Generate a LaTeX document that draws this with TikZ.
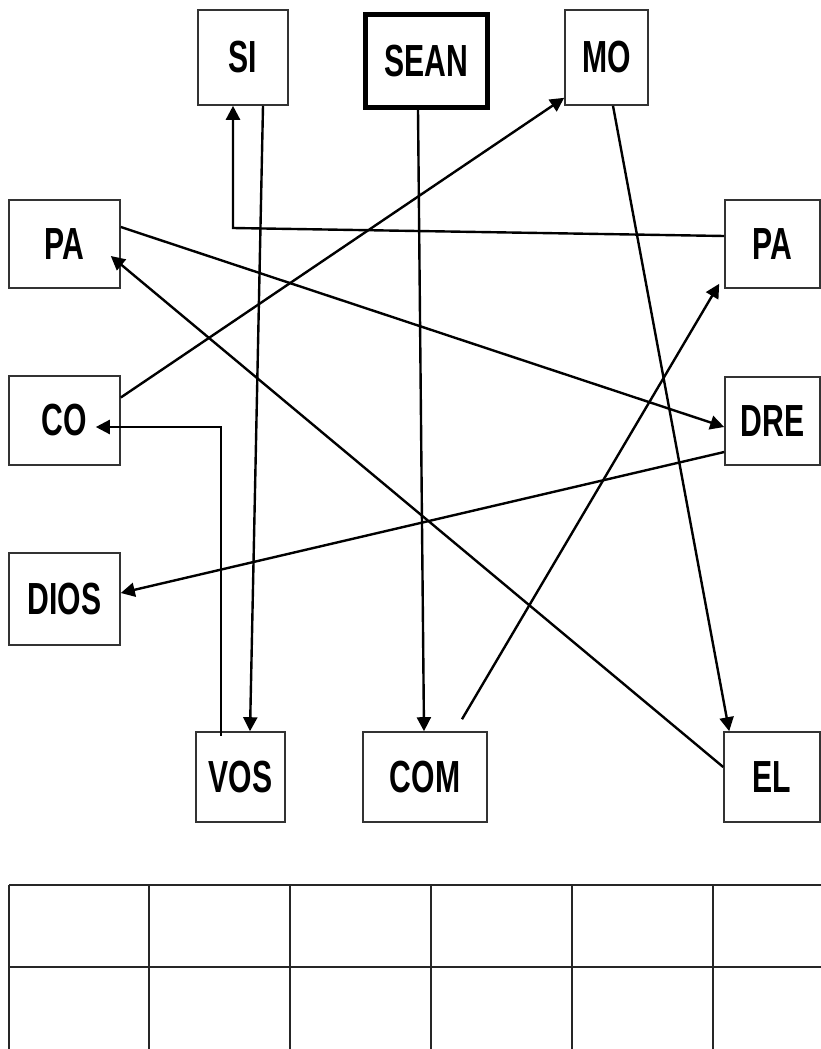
\documentclass[tikz,border=0pt]{standalone}
\usepackage{fontspec}
\newfontfamily\boxfont[FakeStretch=0.67]{Liberation Sans}
\usetikzlibrary{positioning}
\usetikzlibrary{arrows.meta}

\begin{document}
\begin{tikzpicture}[x=1pt,y=-1pt,
        >={Triangle[length=14pt,width=14pt]},
        link/.style={->,draw=black,line width=2.4pt},
        word/.style={draw=black!80,line width=1.6pt,inner sep=0pt,
            font=\boxfont\bfseries\fontsize{45}{45}\selectfont},
        grid line/.style={draw=black!85,line width=1.3pt}]
            \path[use as bounding box] (0,0) rectangle (821,1049);
            \clip (0,0) rectangle (821,1049);

            \node(si) [word,minimum width=90,minimum height=95] at (243,57.5) {SI};
            \node(sean) [word,draw=black,line width=5pt,minimum width=122,minimum height=93] at (426.5,61) {SEAN};
            \node(mo) [word,minimum width=83,minimum height=95] at (606.5,57.5) {MO};
            \node(pal) [word,minimum width=111,minimum height=88] at (64.5,244) {PA};
            \node(co) [word,minimum width=111,minimum height=89] at (64.5,420.5) {CO};
            \node(dios) [word,minimum width=111,minimum height=92] at (64.5,599) {DIOS};
            \node(par) [word,minimum width=95,minimum height=88] at (772.5,244) {PA};
            \node(dre) [word,minimum width=95,minimum height=88] at (772.5,421) {DRE};
            \node(vos) [word,minimum width=89,minimum height=90] at (240.5,777) {VOS};
            \node(com) [word,minimum width=124,minimum height=90] at (425,777) {COM};
            \node(el) [word,minimum width=96,minimum height=90] at (772,777) {EL};

            \coordinate(bend) at (233,228);

            \draw[link] ([xshift=20]si.south) -- ([xshift=9.5]vos.north);
            \draw[link] ([yshift=8]par.west) -- (bend) -- (bend |- si.south);
            \draw[link] ([xshift=-8.5]sean.south) -- ([xshift=-1]com.north);
            \draw[link] ([yshift=23]co.east) -- ([yshift=8]mo.south west);
            \draw[link] ([xshift=6.5]mo.south) -- ([xshift=6]el.north west);
            \draw[link] ([yshift=17]pal.east) -- ([yshift=-6]dre.west);
            \draw[link] ([yshift=10]el.west) -- ([xshift=-10,yshift=-12]pal.east);
            \draw[link] ([xshift=-19.5,yshift=-5]vos.north) |- ([xshift=-25,yshift=-6.5]co.east);
            \draw[link] ([yshift=-31]dre.west) -- ([yshift=6]dios.east);
            \draw[link] ([xshift=37,yshift=12]com.north) -- ([xshift=-5,yshift=5]par.south west);

            \draw[grid line] (9,885) -- (830,885);
            \draw[grid line] (9,967) -- (830,967);
            \foreach \x in {9,149,290,431,572,713}
                \draw[grid line] (\x,885) -- (\x,1060);
        \end{tikzpicture}
\end{document}
